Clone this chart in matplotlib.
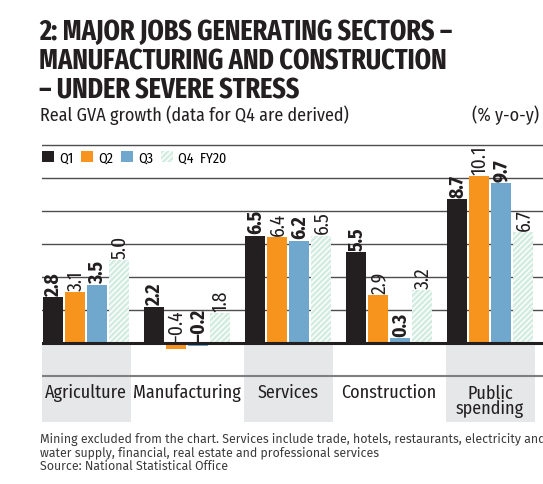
import matplotlib.pyplot as plt
from matplotlib.patches import Patch

# Real GVA growth by sector, FY20 quarters (% y-o-y)
sectors = ['Agriculture', 'Manufacturing', 'Services', 'Construction', 'Public\nspending']
quarters = ['Q1', 'Q2', 'Q3', 'Q4  FY20']
q1 = [2.8, 2.2, 6.5, 5.5, 8.7]
q2 = [3.1, -0.4, 6.4, 2.9, 10.1]
q3 = [3.5, -0.2, 6.2, 0.3, 9.7]
q4 = [5.0, 1.8, 6.5, 3.2, 6.7]

colors = ['#231f20', '#f7941d', '#6fa8cc', '#d3ece1']
bold = [True, False, True, False]

COND = ['Fira Sans Condensed', 'DejaVu Sans']
XCOND = ['Fira Sans Extra Condensed', 'Fira Sans Condensed', 'DejaVu Sans']
BODY = ['Fira Sans', 'DejaVu Sans']
plt.rcParams['font.family'] = COND

W, H = 543, 485
fig = plt.figure(figsize=(W / 100, H / 100), dpi=100)
ax = fig.add_axes([42 / W, (H - 423) / H, (W - 42) / W, 280.5 / H])

ylo, yhi = -4.8, 12.2
ax.set_ylim(ylo, yhi)
ax.set_xlim(-0.436, -0.436 + 501 / 101)

step, width = 0.218, 0.198
series = [q1, q2, q3, q4]

# shaded label bands for alternate sectors
for i in range(0, len(sectors), 2):
    ax.axvspan(i - 0.44, i + 0.45, ymin=0, ymax=(0 - ylo) / (yhi - ylo),
               color='#e6e7e8', lw=0, zorder=0)

for k, vals in enumerate(series):
    xs = [i + (k - 1.5) * step for i in range(len(sectors))]
    if k == 3:
        ax.bar(xs, vals, width, color=colors[k], edgecolor='white',
               hatch='//////', lw=0, zorder=2)
    else:
        ax.bar(xs, vals, width, color=colors[k], lw=0, zorder=2)
    for x, v in zip(xs, vals):
        txt = f'{v:.1f}'.replace('-', '\u2212')
        ax.annotate(txt, (x, max(v, 0)), xytext=(0.5, 1.5), textcoords='offset points',
                    rotation=90, ha='center', va='bottom', fontsize=14,
                    fontweight='bold' if bold[k] else 'normal', color='#231f20',
                    zorder=3)

ax.set_yticks([2, 4, 6, 8, 10, 12])
ax.grid(axis='y', color='#4d4d4f', lw=1)
ax.set_axisbelow(True)
ax.axhline(0, color='#231f20', lw=2.2, zorder=4)
ax.axhline(-2, color='#7f7f7f', lw=1.5, zorder=1)
ax.tick_params(length=0, labelleft=False, labelbottom=False)
for s in ax.spines.values():
    s.set_visible(False)

for i, name in enumerate(sectors):
    ax.text(i, -3.0 if '\n' not in name else -3.5, name, ha='center', va='center',
            fontsize=13, fontweight='normal', color='#231f20', linespacing=0.8)

handles = [Patch(facecolor=c, edgecolor='white' if k == 3 else c,
                 hatch='//////' if k == 3 else None, lw=0)
           for k, c in enumerate(colors)]
fig.legend(handles, quarters, loc='center left', bbox_to_anchor=(42 / W, 1 - 158 / H),
           ncol=4, frameon=False, handlelength=0.85, handleheight=0.85,
           handletextpad=0.4, columnspacing=0.55, borderaxespad=0, borderpad=0,
           prop={'family': COND, 'size': 10})

fig.text(39 / W, 1 - 18 / H,
         '2: MAJOR JOBS GENERATING SECTORS \u2013\nMANUFACTURING AND CONSTRUCTION\n\u2013 UNDER SEVERE STRESS',
         ha='left', va='top', fontsize=20.5, fontweight='bold', color='#231f20',
         family=XCOND, linespacing=1.04)
fig.text(40 / W, 1 - 115 / H, 'Real GVA growth (data for Q4 are derived)',
         ha='left', va='center', fontsize=13, color='#231f20')
fig.text(472 / W, 1 - 115 / H, '(% y-o-y)', ha='left', va='center',
         fontsize=13, color='#231f20')

fig.text(40 / W, 1 - 433 / H,
         'Mining excluded from the chart. Services include trade, hotels, restaurants, electricity and\n'
         'water supply, financial, real estate and professional services\n'
         'Source: National Statistical Office',
         ha='left', va='top', fontsize=8.9, color='#3a3a3a', family=BODY,
         linespacing=1.05)

fig.savefig('out.png', dpi=100)
